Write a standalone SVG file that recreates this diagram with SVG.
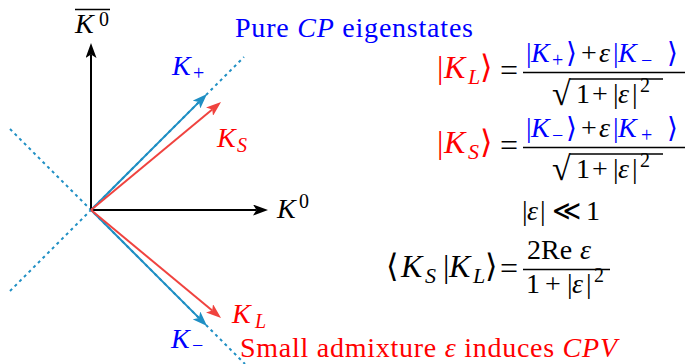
<svg xmlns="http://www.w3.org/2000/svg" width="687" height="364" viewBox="0 0 687 364">
<defs>
<marker id="ak" viewBox="0 0 15 11" markerWidth="15" markerHeight="11" refX="3.5" refY="5.5" orient="auto" markerUnits="userSpaceOnUse"><path d="M0,0 L15,5.5 L0,11 L3.5,5.5 Z" fill="#000"/></marker>
<marker id="ab" viewBox="0 0 15 11" markerWidth="15" markerHeight="11" refX="3.5" refY="5.5" orient="auto" markerUnits="userSpaceOnUse"><path d="M0,0 L15,5.5 L0,11 L3.5,5.5 Z" fill="#1f8fc4"/></marker>
<marker id="ar" viewBox="0 0 15 11" markerWidth="15" markerHeight="11" refX="3.5" refY="5.5" orient="auto" markerUnits="userSpaceOnUse"><path d="M0,0 L15,5.5 L0,11 L3.5,5.5 Z" fill="#f0433f"/></marker>
</defs>

<g id="connectors" stroke-width="2" fill="none">
<g stroke="#1f8fc4" stroke-dasharray="3 3.6">
<line x1="10" y1="291" x2="244" y2="57"/>
<line x1="10" y1="129" x2="245" y2="364"/>
</g>
<line id="axis-k0bar" stroke="#000" x1="91" y1="210" x2="91" y2="54.5" marker-end="url(#ak)"/>
<line id="axis-k0" stroke="#000" x1="91" y1="210" x2="256.5" y2="210" marker-end="url(#ak)"/>
<line id="vec-kplus" stroke="#1f8fc4" x1="91" y1="210" x2="198.9" y2="102.1" marker-end="url(#ab)"/>
<line id="vec-kminus" stroke="#1f8fc4" x1="91" y1="210" x2="198.9" y2="317.9" marker-end="url(#ab)"/>
<line id="vec-ks" stroke="#f0433f" x1="91" y1="210" x2="212.2" y2="109.4" marker-end="url(#ar)"/>
<line id="vec-kl" stroke="#f0433f" x1="91" y1="210" x2="212.2" y2="310.6" marker-end="url(#ar)"/>
</g>

<g font-family="Liberation Serif" font-size="28" fill="#000">
<g id="label-k0bar">
<line x1="75" y1="9.5" x2="110" y2="9.5" stroke="#000" stroke-width="1.3"/>
<text font-family="Liberation Serif" y="33"><tspan x="75" font-style="italic">K</tspan><tspan x="99" y="26" font-size="20">0</tspan></text>
</g>
<g id="label-k0">
<text font-family="Liberation Serif" y="218"><tspan x="277" font-style="italic">K</tspan><tspan x="299" y="208" font-size="20">0</tspan></text>
</g>
<g id="label-kplus" fill="#0000ff">
<text font-family="Liberation Serif" y="75"><tspan x="172" font-style="italic">K</tspan><tspan x="193" y="80" font-size="20">+</tspan></text>
</g>
<g id="label-ks" fill="#ff0000">
<text font-family="Liberation Serif" y="147"><tspan x="217" font-style="italic">K</tspan><tspan x="237" y="152" font-size="20" font-style="italic">S</tspan></text>
</g>
<g id="label-kl" fill="#ff0000">
<text font-family="Liberation Serif" y="323"><tspan x="232" font-style="italic">K</tspan><tspan x="255" y="328" font-size="20" font-style="italic">L</tspan></text>
</g>
<g id="label-kminus" fill="#0000ff">
<text font-family="Liberation Serif" y="348"><tspan x="171" font-style="italic">K</tspan><tspan x="192" y="352" font-size="20">−</tspan></text>
</g>
<g id="label-pure" fill="#0000ff">
<text font-family="Liberation Serif" x="235" y="37" textLength="238" lengthAdjust="spacing">Pure <tspan font-style="italic">CP</tspan> eigenstates</text>
</g>
<g id="label-small" fill="#ff0000">
<text font-family="Liberation Serif" x="240" y="357" textLength="377" lengthAdjust="spacing">Small admixture <tspan font-style="italic">ε</tspan> induces <tspan font-style="italic">CPV</tspan></text>
</g>

<g id="eq-kl">
<text font-family="Liberation Serif" y="78" font-size="32" fill="#ff0000"><tspan x="437">|</tspan><tspan x="444" font-style="italic">K</tspan><tspan x="468" y="84" font-size="22" font-style="italic">L</tspan><tspan x="480" y="78" font-family="DejaVu Serif">⟩</tspan></text>
<text font-family="Liberation Serif" x="500" y="81" font-size="32">=</text>
<line stroke="#000" stroke-width="1.3" x1="523" y1="72.5" x2="685" y2="72.5"/>
<text font-family="Liberation Serif" y="62"><tspan x="526" fill="#0000ff">|</tspan><tspan x="531" font-style="italic" fill="#0000ff">K</tspan><tspan x="552" y="67" font-size="20" fill="#0000ff">+</tspan><tspan x="566" y="62" fill="#0000ff" font-family="DejaVu Serif">⟩</tspan><tspan x="581">+</tspan><tspan x="599" font-style="italic">ε</tspan><tspan x="613" fill="#0000ff">|</tspan><tspan x="618" font-style="italic" fill="#0000ff">K</tspan><tspan x="641" y="67" font-size="20" fill="#0000ff">−</tspan><tspan x="667" y="62" fill="#0000ff" font-family="DejaVu Serif">⟩</tspan></text>
<text font-family="Liberation Serif" x="552" y="105" font-size="34">√</text>
<line stroke="#000" stroke-width="1.3" x1="570" y1="79" x2="663" y2="79"/>
<text font-family="Liberation Serif" y="103"><tspan x="576">1</tspan><tspan x="592">+</tspan><tspan x="613">|</tspan><tspan x="618" font-style="italic">ε</tspan><tspan x="632">|</tspan><tspan x="640" y="92" font-size="20">2</tspan></text>
</g>

<g id="eq-ks">
<text font-family="Liberation Serif" y="153" font-size="32" fill="#ff0000"><tspan x="437">|</tspan><tspan x="444" font-style="italic">K</tspan><tspan x="468" y="159" font-size="22" font-style="italic">S</tspan><tspan x="480" y="153" font-family="DejaVu Serif">⟩</tspan></text>
<text font-family="Liberation Serif" x="500" y="156" font-size="32">=</text>
<line stroke="#000" stroke-width="1.3" x1="523" y1="147.5" x2="685" y2="147.5"/>
<text font-family="Liberation Serif" y="137"><tspan x="526" fill="#0000ff">|</tspan><tspan x="531" font-style="italic" fill="#0000ff">K</tspan><tspan x="552" y="142" font-size="20" fill="#0000ff">−</tspan><tspan x="566" y="137" fill="#0000ff" font-family="DejaVu Serif">⟩</tspan><tspan x="581">+</tspan><tspan x="599" font-style="italic">ε</tspan><tspan x="613" fill="#0000ff">|</tspan><tspan x="618" font-style="italic" fill="#0000ff">K</tspan><tspan x="641" y="142" font-size="20" fill="#0000ff">+</tspan><tspan x="667" y="137" fill="#0000ff" font-family="DejaVu Serif">⟩</tspan></text>
<text font-family="Liberation Serif" x="552" y="180" font-size="34">√</text>
<line stroke="#000" stroke-width="1.3" x1="570" y1="154" x2="663" y2="154"/>
<text font-family="Liberation Serif" y="178"><tspan x="576">1</tspan><tspan x="592">+</tspan><tspan x="613">|</tspan><tspan x="618" font-style="italic">ε</tspan><tspan x="632">|</tspan><tspan x="640" y="167" font-size="20">2</tspan></text>
</g>

<g id="eq-small">
<text font-family="Liberation Serif" y="220"><tspan x="522">|</tspan><tspan x="527" font-style="italic">ε</tspan><tspan x="540">|</tspan><tspan x="552" font-family="DejaVu Serif">≪</tspan><tspan x="586">1</tspan></text>
</g>

<g id="eq-overlap">
<text font-family="Liberation Serif" y="277" font-size="32"><tspan x="386" font-family="DejaVu Serif">⟨</tspan><tspan x="401" font-style="italic">K</tspan><tspan x="425" y="283" font-size="22" font-style="italic">S</tspan><tspan x="443" y="277">|</tspan><tspan x="449" font-style="italic">K</tspan><tspan x="473" y="283" font-size="22" font-style="italic">L</tspan><tspan x="485" y="277" font-family="DejaVu Serif">⟩</tspan></text>
<text font-family="Liberation Serif" x="500" y="279" font-size="32">=</text>
<line stroke="#000" stroke-width="1.3" x1="523" y1="269.5" x2="610" y2="269.5"/>
<text font-family="Liberation Serif" y="259"><tspan x="527">2Re</tspan><tspan x="580" font-style="italic">ε</tspan></text>
<text font-family="Liberation Serif" y="293"><tspan x="526">1</tspan><tspan x="545">+</tspan><tspan x="567">|</tspan><tspan x="572" font-style="italic">ε</tspan><tspan x="586">|</tspan><tspan x="594" y="282" font-size="20">2</tspan></text>
</g>
</g>
</svg>
